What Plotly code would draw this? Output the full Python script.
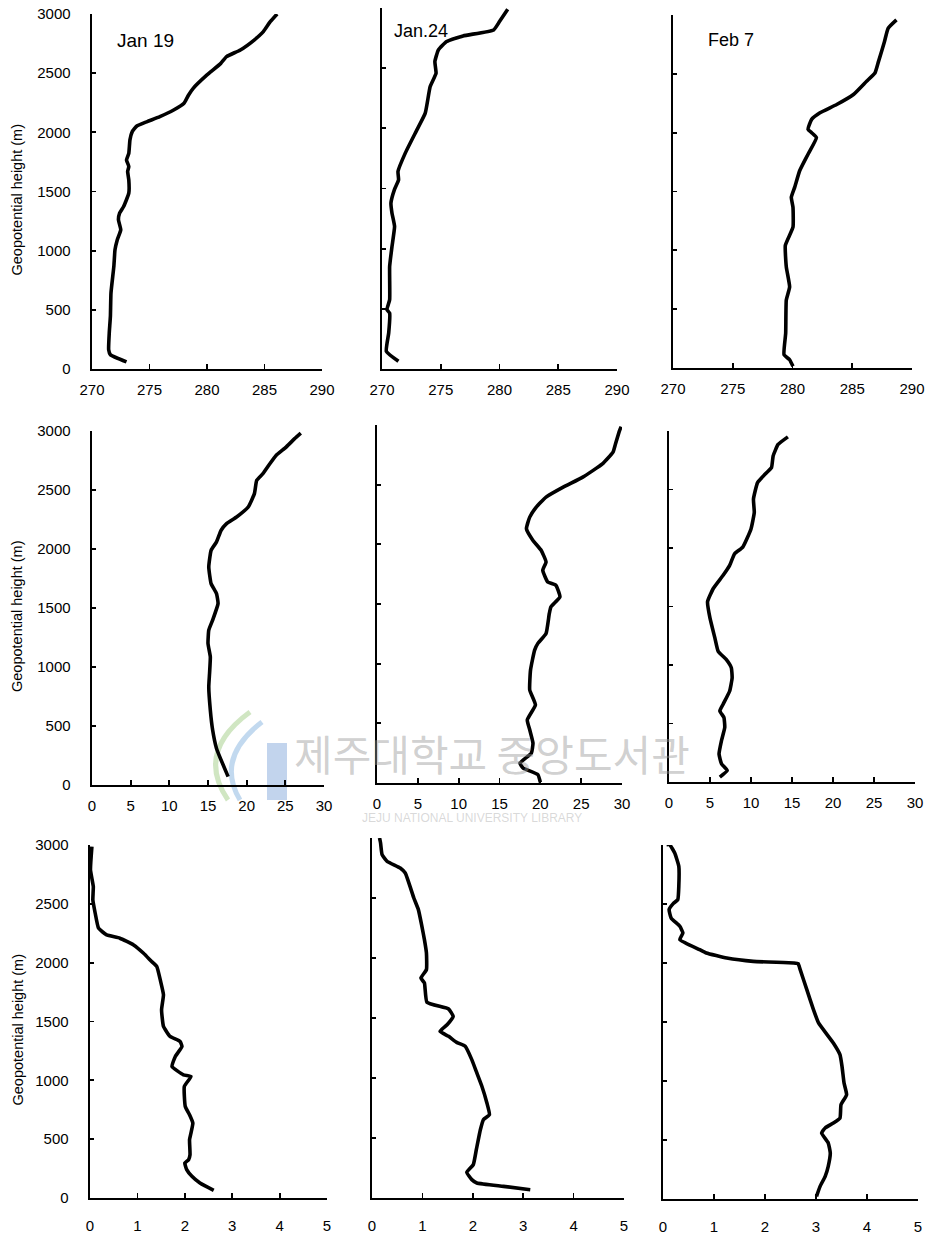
import plotly.graph_objects as go

W, H = 930, 1237

# ---------------- data ----------------
dates = ["Jan 19", "Jan.24", "Feb 7"]

# Row 1: temperature (K)
temp_jan19 = [273.0, 271.6, 271.45, 271.5, 271.6, 271.65, 271.9, 272.0, 272.2, 272.5, 272.3, 272.4,
              272.75, 273.2, 273.2, 273.1, 273.2, 273.0, 273.2, 273.3, 273.5, 273.9, 274.8, 275.9,
              277.1, 278.0, 278.4, 278.8, 280.0, 281.2, 281.7, 282.9, 284.1, 284.9, 285.5, 286.1]
z_temp_jan19 = [60, 121, 163, 304, 445, 642, 867, 1007, 1092, 1176, 1261, 1317,
                1373, 1486, 1598, 1669, 1711, 1767, 1823, 1936, 2006, 2054, 2091, 2133,
                2189, 2245, 2316, 2372, 2485, 2583, 2640, 2696, 2780, 2851, 2935, 3000]

temp_jan24 = [271.4, 270.37, 270.57, 270.65, 270.42, 270.65, 270.65, 270.85, 271.07, 270.85, 270.76,
              271.05, 271.41, 271.36, 271.98, 272.97, 273.68, 274.1, 274.6, 274.5, 274.8, 275.5,
              276.9, 279.5, 280.0, 280.7]
z_temp_jan24 = [64, 147, 299, 465, 493, 576, 852, 1018, 1185, 1295, 1378,
                1489, 1572, 1641, 1794, 1987, 2126, 2347, 2458, 2555, 2652, 2721,
                2768, 2818, 2887, 2989]

temp_feb7 = [280.04, 279.76, 279.29, 279.43, 279.48, 279.76, 279.48, 279.4, 280.04, 280.04, 279.9,
             280.18, 280.6, 281.3, 282.0, 281.6, 281.3, 281.6, 282.3, 283.7, 285.1, 286.2, 286.9,
             287.2, 287.7, 288.0, 288.7]
z_temp_feb7 = [14, 70, 113, 296, 577, 690, 859, 1042, 1197, 1366, 1451,
               1535, 1676, 1817, 1958, 2000, 2028, 2113, 2169, 2239, 2324, 2437, 2507,
               2606, 2775, 2887, 2958]

# Row 2: second quantity (0-30)
q2_jan19 = [17.6, 16.1, 15.6, 15.3, 15.1, 15.2, 15.3, 15.0, 15.1, 15.6, 16.3, 16.1, 15.4, 15.1,
            15.4, 16.1, 16.7, 17.4, 18.7, 20.2, 21.0, 21.3, 22.1, 23.0, 23.8, 25.1, 26.2, 27.0]
z_q2_jan19 = [71, 310, 466, 635, 832, 945, 1086, 1199, 1312, 1397, 1538, 1622, 1707, 1848,
              1989, 2060, 2159, 2215, 2271, 2356, 2469, 2582, 2638, 2723, 2793, 2864, 2935, 2982]

q2_jan24 = [20.0, 19.7, 17.9, 17.5, 18.9, 19.1, 18.7, 18.4, 19.4, 18.7, 18.8, 19.3, 19.7, 20.7,
            21.1, 21.3, 22.4, 21.9, 20.9, 20.3, 20.7, 20.1, 19.1, 18.3, 18.7, 19.5, 20.7, 22.8,
            25.2, 27.6, 28.9, 29.2, 29.7, 29.9]
z_q2_jan24 = [6, 70, 125, 167, 251, 334, 446, 529, 655, 780, 947, 1114, 1170, 1253,
              1421, 1476, 1560, 1657, 1685, 1783, 1852, 1950, 2033, 2131, 2228, 2312, 2396, 2479,
              2563, 2674, 2772, 2841, 2953, 2986]

q2_feb7 = [6.2, 7.1, 6.4, 6.1, 6.4, 6.8, 6.7, 6.2, 6.6, 7.4, 7.7, 7.6, 7.0, 6.0, 5.6, 5.0, 4.7,
           5.4, 6.6, 7.4, 8.0, 9.0, 10.0, 10.4, 10.3, 10.8, 11.9, 12.5, 12.7, 13.3, 14.5]
z_q2_feb7 = [42, 99, 156, 240, 354, 467, 551, 608, 665, 778, 891, 976, 1046, 1117, 1230, 1400, 1541,
             1654, 1767, 1852, 1951, 2008, 2163, 2305, 2418, 2559, 2644, 2687, 2786, 2885, 2950]

# Row 3: third quantity (0-5)
q3_jan19 = [2.61, 2.32, 2.15, 2.04, 2.0, 2.08, 2.11, 2.1, 2.13, 2.17, 2.1, 2.01, 1.99, 2.13, 1.97,
            1.73, 1.8, 1.94, 1.9, 1.69, 1.55, 1.51, 1.55, 1.49, 1.41, 1.3, 1.13, 0.92, 0.63, 0.35,
            0.18, 0.11, 0.06, 0.07, 0.01, 0.04]
z_q3_jan19 = [65, 127, 184, 241, 297, 325, 368, 495, 552, 637, 708, 778, 948, 1033, 1047,
              1118, 1203, 1288, 1330, 1373, 1458, 1599, 1727, 1840, 1967, 2010, 2080, 2151, 2208, 2236,
              2293, 2420, 2533, 2646, 2788, 2986]

q3_jan24 = [3.14, 2.61, 2.08, 1.98, 1.88, 2.01, 2.07, 2.15, 2.21, 2.33, 2.28, 2.18, 2.08, 1.98, 1.85,
            1.68, 1.52, 1.35, 1.49, 1.61, 1.52, 1.09, 1.04, 0.97, 1.08, 1.08, 1.04, 0.99, 0.92, 0.83,
            0.66, 0.56, 0.30, 0.20, 0.17, 0.15]
z_q3_jan24 = [69, 97, 125, 153, 214, 278, 403, 569, 653, 694, 792, 931, 1042, 1153, 1264,
              1297, 1347, 1389, 1444, 1514, 1575, 1631, 1792, 1833, 1903, 2042, 2153, 2264, 2403, 2500,
              2708, 2750, 2806, 2861, 2958, 3000]

q3_feb7 = [3.01, 3.08, 3.18, 3.24, 3.28, 3.24, 3.11, 3.18, 3.34, 3.47, 3.49, 3.6, 3.55, 3.51, 3.47,
           3.34, 3.05, 2.95, 2.82, 2.69, 2.65, 2.56, 1.77, 1.25, 0.85, 0.72, 0.33, 0.39, 0.33, 0.16,
           0.12, 0.2, 0.29, 0.31, 0.31, 0.23, 0.13, 0.07]
z_q3_feb7 = [23, 107, 192, 277, 390, 475, 559, 602, 644, 686, 799, 884, 983, 1124, 1223,
             1322, 1492, 1605, 1774, 1944, 1994, 2000, 2014, 2042, 2085, 2113, 2198, 2254, 2311, 2381,
             2452, 2503, 2537, 2650, 2819, 2932, 3003, 3003]

x_ticks_row1 = [270, 275, 280, 285, 290]
x_ticks_row2 = [0, 5, 10, 15, 20, 25, 30]
x_ticks_row3 = [0, 1, 2, 3, 4, 5]
y_ticks = [0, 500, 1000, 1500, 2000, 2500, 3000]
y_title = "Geopotential height (m)"

series = [
    (temp_jan19, z_temp_jan19), (temp_jan24, z_temp_jan24), (temp_feb7, z_temp_feb7),
    (q2_jan19, z_q2_jan19), (q2_jan24, z_q2_jan24), (q2_feb7, z_q2_feb7),
    (q3_jan19, z_q3_jan19), (q3_jan24, z_q3_jan24), (q3_feb7, z_q3_feb7),
]
row_ticks = [x_ticks_row1, x_ticks_row2, x_ticks_row3]

# ---------------- layout geometry (pixels) ----------------
x_dom_px = [(92, 322), (382, 617), (673, 912),
            (92, 324), (377, 622), (669, 915),
            (90, 327), (372, 624), (663, 918)]
y_dom_px = [(14, 369), (8, 369), (15, 368),
            (431, 785), (425, 783), (431, 782),
            (845, 1198), (838, 1198), (845, 1199)]
x_standoff = [6, 6, 13]

FONT = "Liberation Sans, Arial, sans-serif"

fig = go.Figure()
layout = dict(
    width=W, height=H, margin=dict(l=0, r=0, t=0, b=0, autoexpand=False),
    paper_bgcolor="white", plot_bgcolor="white", showlegend=False,
    font=dict(family=FONT, color="black", size=15),
)

for i, (xs, zs) in enumerate(series):
    r, c = divmod(i, 3)
    k = "" if i == 0 else str(i + 1)
    fig.add_trace(go.Scatter(
        x=xs, y=zs, mode="lines", xaxis="x" + k, yaxis="y" + k,
        line=dict(color="black", width=3.6, shape="spline", smoothing=0.4),
        hoverinfo="skip", cliponaxis=False,
    ))
    ticks = row_ticks[r]
    x0, x1 = x_dom_px[i]
    yt, yb = y_dom_px[i]
    layout["xaxis" + k] = dict(
        domain=[x0 / W, x1 / W], anchor="y" + k,
        range=[ticks[0], ticks[-1]], tickvals=ticks,
        showline=True, linecolor="black", linewidth=2.4, mirror=False,
        ticks="inside", ticklen=5, tickwidth=1.8, tickcolor="black",
        showgrid=False, zeroline=False, ticklabelstandoff=x_standoff[r],
        tickfont=dict(family=FONT, size=15, color="black"),
    )
    layout["yaxis" + k] = dict(
        domain=[1 - yb / H, 1 - yt / H], anchor="x" + k,
        range=[0, 3000], tickvals=y_ticks,
        showline=True, linecolor="black", linewidth=2.4,
        ticks="inside", ticklen=4, tickwidth=1.8, tickcolor="black",
        showgrid=False, zeroline=False,
        showticklabels=(c == 0), ticklabelstandoff=16,
        tickfont=dict(family=FONT, size=15, color="black"),
    )

fig.update_layout(**layout)

annotations = []
# y-axis titles (one per row, left column)
for (yt, yb) in [y_dom_px[0], y_dom_px[3], y_dom_px[6]]:
    annotations.append(dict(
        x=17 / W, y=1 - ((yt + yb) / 2 + 8) / H, xref="paper", yref="paper",
        text=y_title, textangle=-90, showarrow=False,
        font=dict(family=FONT, size=14.5, color="black"),
        xanchor="center", yanchor="middle",
    ))
# date labels in the top row
for txt, px, py, sz in [(dates[0], 145, 40, 19), (dates[1], 421, 31, 18), (dates[2], 731, 40, 18)]:
    annotations.append(dict(
        x=px / W, y=1 - py / H, xref="paper", yref="paper", text=txt, showarrow=False,
        font=dict(family=FONT, size=sz, color="black"), xanchor="center", yanchor="middle",
    ))
# library watermark
annotations.append(dict(
    x=492 / W, y=1 - 752 / H, xref="paper", yref="paper", text="제주대학교 중앙도서관",
    showarrow=False, font=dict(family="Noto Sans CJK KR", size=42, color="rgba(150,150,150,0.45)"),
    xanchor="center", yanchor="middle",
))
annotations.append(dict(
    x=472 / W, y=1 - 818 / H, xref="paper", yref="paper", text="JEJU NATIONAL UNIVERSITY LIBRARY",
    showarrow=False, font=dict(family=FONT, size=12, color="rgba(170,170,170,0.45)"),
    xanchor="center", yanchor="middle",
))
fig.update_layout(annotations=annotations)

# watermark logo (decorative)
def P(x, y):
    return f"{x / W:.5f},{1 - y / H:.5f}"

shapes = [
    dict(type="rect", xref="paper", yref="paper", x0=267 / W, x1=287 / W, y0=1 - 800 / H, y1=1 - 743 / H,
         fillcolor="rgba(120,160,215,0.45)", line=dict(width=0), layer="below"),
    dict(type="path", xref="paper", yref="paper", layer="below",
         path=f"M {P(250, 712)} Q {P(195, 752)} {P(228, 800)}",
         line=dict(color="rgba(150,200,120,0.45)", width=5)),
    dict(type="path", xref="paper", yref="paper", layer="below",
         path=f"M {P(262, 722)} Q {P(215, 758)} {P(240, 800)}",
         line=dict(color="rgba(120,170,220,0.45)", width=5)),
]
fig.update_layout(shapes=shapes)

fig.write_html(
    "out.html",
    config={"displayModeBar": False, "staticPlot": True},
    post_script="document.body.style.margin='0px';document.body.style.overflow='hidden';",
)
